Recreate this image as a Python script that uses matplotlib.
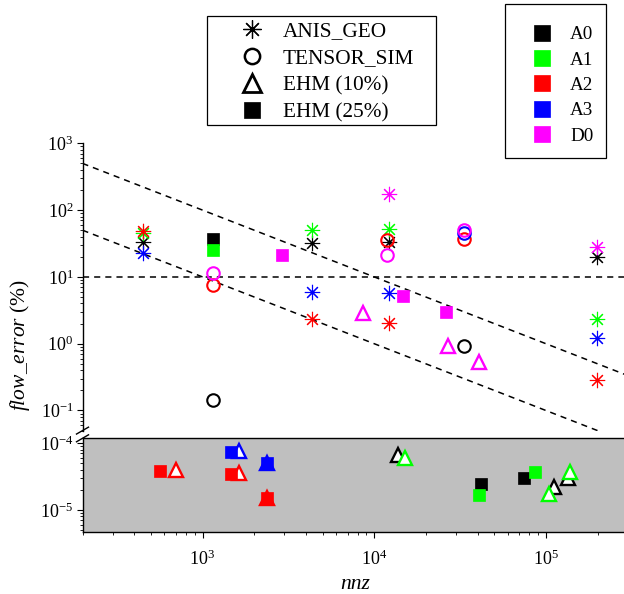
import matplotlib
matplotlib.use('Agg')
import matplotlib.pyplot as plt
from matplotlib.lines import Line2D
from matplotlib.patches import Rectangle
from matplotlib.ticker import LogLocator, NullFormatter

plt.rcParams['font.family'] = ['Liberation Serif', 'DejaVu Serif']
plt.rcParams['mathtext.fontset'] = 'custom'
plt.rcParams['mathtext.rm'] = 'Liberation Serif'
plt.rcParams['mathtext.it'] = 'Liberation Serif:italic'
plt.rcParams['mathtext.bf'] = 'Liberation Serif:bold'

# ---------------- data ----------------
matrices = ['A0', 'A1', 'A2', 'A3', 'D0']
matrix_colors = ['#000000', '#00ff00', '#ff0000', '#0000ff', '#ff00ff']
methods = ['ANIS_GEO', 'TENSOR_SIM', 'EHM (10%)', 'EHM (25%)']

# upper panel: flow error (%)
anis_nnz = {'A0': [452, 4330, 12250, 197700], 'A1': [452, 4330, 12250, 197700],
            'A2': [452, 4330, 12250, 197700], 'A3': [452, 4330, 12250, 197700],
            'D0': [12250, 197700]}
anis_err = {'A0': [33.6, 31.8, 33.6, 19.6], 'A1': [45, 50.4, 51.5, 2.32],
            'A2': [49, 2.32, 2.02, 0.29], 'A3': [23, 6.0, 5.67, 1.2],
            'D0': [172, 28.3]}

tensor_nnz = {'A0': [1156, 33500], 'A2': [1156, 11900, 33500], 'A3': [33500],
              'D0': [1156, 11900, 33500]}
tensor_err = {'A0': [0.144, 0.925], 'A2': [7.6, 35.6, 36.9], 'A3': [45],
              'D0': [11.6, 21.3, 50.4]}

ehm10_nnz = {'D0': [8650, 27000, 40900]}
ehm10_err = {'D0': [2.91, 0.925, 0.538]}

ehm25_nnz = {'A0': [1156], 'A1': [1156], 'D0': [2890, 14650, 26200]}
ehm25_err = {'A0': [36.6], 'A1': [25.3], 'D0': [21.3, 5.22, 2.95]}

# lower panel: very small flow error (%)
ehm10_low_nnz = {'A0': [13800, 111500, 135000], 'A1': [15200, 104700, 138000],
                 'A2': [698, 1637, 2366], 'A3': [1637, 2366]}
ehm10_low_err = {'A0': [6.6e-5, 2.17e-5, 3.03e-5], 'A1': [5.9e-5, 1.71e-5, 3.7e-5],
                 'A2': [4.0e-5, 3.6e-5, 1.49e-5], 'A3': [7.6e-5, 5.1e-5]}
ehm25_low_nnz = {'A0': [41700, 74500], 'A1': [40600, 86000],
                 'A2': [565, 1466, 2366], 'A3': [1466, 2366]}
ehm25_low_err = {'A0': [2.46e-5, 3.03e-5], 'A1': [1.67e-5, 3.64e-5],
                 'A2': [3.77e-5, 3.5e-5, 1.49e-5], 'A3': [7.4e-5, 5.1e-5]}

# reference guide lines
guide_nnz = [200, 300000]
guide_hi = [500, 0.3333]
guide_lo = [50, 0.03333]
threshold = 10

# ---------------- layout ----------------
W, H = 624, 594
fig = plt.figure(figsize=(W / 100, H / 100), dpi=100)

def px_rect(left, top, right, bottom):
    return [left / W, 1 - bottom / H, (right - left) / W, (bottom - top) / H]

ax_left, ax_right = 82.5, 82.5 + 545.3
ax_top = fig.add_axes(px_rect(ax_left, 143.3, ax_right, 430.6))
ax_bot = fig.add_axes(px_rect(ax_left, 438.3, ax_right, 532.0))

styles = {
    'ANIS_GEO': dict(marker=(8, 2, 0), ms=11, mew=0.8, zorder=3),
    'TENSOR_SIM': dict(marker='o', ms=9, mew=1.5, mfc='none', zorder=4),
    'EHM (10%)': dict(marker='^', ms=10, mew=1.7, mfc='white', zorder=5),
    'EHM (25%)': dict(marker='s', ms=9, mew=0.5, zorder=6),
}

def plot_set(ax, method, xs, ys):
    for m, c in zip(matrices, matrix_colors):
        if m in xs:
            st = dict(styles[method])
            ax.plot(xs[m], ys[m], ls='none', color=c, mec=c,
                    **({} if 'mfc' in st else {'mfc': c}), **st)

# guide lines
dash = dict(color='black', lw=1.1, dashes=(4, 3.3), zorder=2)
ax_top.plot(guide_nnz, guide_hi, **dash)
ax_top.plot(guide_nnz, guide_lo, **dash)
ax_top.axhline(threshold, **dash)

plot_set(ax_top, 'ANIS_GEO', anis_nnz, anis_err)
plot_set(ax_top, 'TENSOR_SIM', tensor_nnz, tensor_err)
plot_set(ax_top, 'EHM (10%)', ehm10_nnz, ehm10_err)
plot_set(ax_top, 'EHM (25%)', ehm25_nnz, ehm25_err)

plot_set(ax_bot, 'EHM (10%)', ehm10_low_nnz, ehm10_low_err)
plot_set(ax_bot, 'EHM (25%)', ehm25_low_nnz, ehm25_low_err)

for ax in (ax_top, ax_bot):
    ax.set_xscale('log')
    ax.set_yscale('log')
    ax.set_xlim(200, 3e5)
    ax.tick_params(which='major', direction='out', length=4.5, width=0.8,
                   labelsize=13, pad=2)
    ax.tick_params(which='minor', direction='out', length=2.5, width=0.6)
    ax.yaxis.set_minor_locator(LogLocator(base=10, subs=range(2, 10), numticks=20))
    ax.yaxis.set_minor_formatter(NullFormatter())

ax_top.set_ylim(0.05, 1000)
ax_top.set_facecolor('none')
for s in ('top', 'right', 'bottom'):
    ax_top.spines[s].set_visible(False)
ax_top.spines['left'].set_linewidth(1.0)
ax_top.tick_params(axis='x', which='both', bottom=False, labelbottom=False)
ax_top.set_yticks([0.1, 1, 10, 100, 1000])

ax_bot.set_ylim(4.69e-6, 1.176e-4)
ax_bot.set_facecolor('#bfbfbf')
ax_bot.spines['right'].set_visible(False)
for s in ('top', 'left', 'bottom'):
    ax_bot.spines[s].set_linewidth(1.0)
ax_bot.set_yticks([1e-5, 1e-4])
ax_bot.set_xticks([1e3, 1e4, 1e5])
ax_bot.xaxis.set_minor_locator(LogLocator(base=10, subs=range(2, 10), numticks=20))
ax_bot.xaxis.set_minor_formatter(NullFormatter())
ax_bot.tick_params(axis='x', which='major', pad=8.5)
ax_bot.set_xlabel('nnz', style='italic', fontsize=15.5, labelpad=4)

# axis-break marks
for ax, yy, k in ((ax_top, 0.0, 1.0), (ax_bot, 1.0, 3.1)):
    ax.plot([-0.011, 0.011], [yy - 0.012 * k, yy + 0.012 * k],
            transform=ax.transAxes, color='black', lw=1.0, clip_on=False, zorder=10)

fig.text(20 / W, 1 - 345 / H, r'$\it{flow\_error}$ (%)', rotation=90,
         ha='center', va='center', fontsize=15.5)

# legends
def fx(x):
    return x / W

def fy(y):
    return 1 - y / H

h_method = [
    Line2D([], [], ls='none', color='k', marker=(8, 2, 0), ms=13, mew=0.9),
    Line2D([], [], ls='none', color='k', marker='o', ms=11, mew=1.8, mfc='none'),
    Line2D([], [], ls='none', color='k', marker='^', ms=12.5, mew=2.0, mfc='white'),
    Line2D([], [], ls='none', color='k', marker='s', ms=11.5, mew=0.5),
]
leg1 = fig.legend(h_method, methods, loc='upper left',
                  bbox_to_anchor=(fx(230.4), fy(21.6)), bbox_transform=fig.transFigure,
                  frameon=False, fontsize=15.3, borderpad=0, borderaxespad=0,
                  handlelength=2, handletextpad=0.46, labelspacing=0.34)
fig.add_artist(Rectangle((fx(206.7), fy(125)), fx(436) - fx(206.7), fy(16) - fy(125),
                         transform=fig.transFigure, fill=False, ec='black', lw=0.9))

h_mat = [Line2D([], [], ls='none', color=c, marker='s', ms=11.5, mew=0.5)
         for c in matrix_colors]
leg2 = fig.legend(h_mat, matrices, loc='upper left',
                  bbox_to_anchor=(fx(522.7), fy(26.1)), bbox_transform=fig.transFigure,
                  frameon=False, fontsize=13.7, borderpad=0, borderaxespad=0,
                  handlelength=2, handletextpad=0.49, labelspacing=0.42)
fig.add_artist(Rectangle((fx(505), fy(157.7)), fx(605.7) - fx(505), fy(4.3) - fy(157.7),
                         transform=fig.transFigure, fill=False, ec='black', lw=0.9))

fig.savefig('out.png', dpi=100)
